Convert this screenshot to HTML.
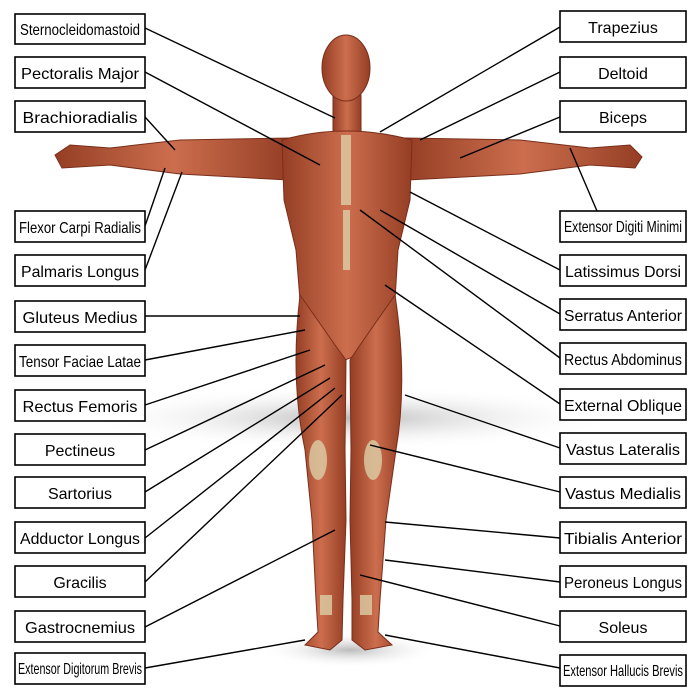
<!DOCTYPE html>
<html><head><meta charset="utf-8"><style>
html,body{margin:0;padding:0;background:#fff;width:700px;height:700px;overflow:hidden}
text{font-family:"Liberation Sans",sans-serif;font-size:16px;fill:#000}
</style></head><body>
<svg width="700" height="700" viewBox="0 0 700 700" xmlns="http://www.w3.org/2000/svg">
<defs>
<radialGradient id="sh" cx="50%" cy="50%" r="50%"><stop offset="0" stop-color="#bbb"/><stop offset="1" stop-color="#fff" stop-opacity="0"/></radialGradient>
<linearGradient id="mus" x1="0" x2="1"><stop offset="0" stop-color="#953e24"/><stop offset="0.5" stop-color="#cc6e4e"/><stop offset="1" stop-color="#953e24"/></linearGradient>
</defs>
<ellipse cx="350" cy="418" rx="270" ry="32" fill="url(#sh)"/>
<ellipse cx="350" cy="650" rx="90" ry="18" fill="url(#sh)"/>
<g fill="url(#mus)" stroke="#7a2e1a" stroke-width="1">
<path d="M290 138 L180 140 L110 148 L70 145 L55 155 L62 168 L110 165 L180 174 L288 180 Z"/>
<path d="M405 138 L520 140 L590 148 L630 145 L642 157 L635 168 L590 165 L520 174 L408 180 Z"/>
<rect x="333" y="95" width="28" height="40"/>
<ellipse cx="346" cy="68" rx="24" ry="33"/>
<path d="M282 140 Q345 122 412 140 L410 200 L398 250 L395 300 L385 345 L345 360 L308 345 L300 300 L296 250 L284 200 Z"/>
<path d="M300 295 Q290 380 305 450 L312 520 L316 600 L318 632 L305 645 L330 650 L342 640 L343 600 L346 520 L345 450 L346 360 L335 345 Z"/>
<path d="M395 295 Q408 380 396 450 L386 520 L380 600 L378 632 L392 645 L365 650 L352 640 L352 600 L350 520 L351 450 L350 360 L360 345 Z"/>
</g>
<g fill="#dccfa6" opacity="0.8">
<rect x="341" y="135" width="10" height="70"/>
<rect x="343" y="210" width="7" height="60"/>
<ellipse cx="318" cy="460" rx="9" ry="20"/>
<ellipse cx="373" cy="460" rx="9" ry="20"/>
<rect x="320" y="595" width="12" height="20"/>
<rect x="360" y="595" width="12" height="20"/>
</g>
<g stroke="#000" stroke-width="1.4">
<line x1="145" y1="28" x2="335" y2="118"/>
<line x1="145" y1="72" x2="320" y2="165"/>
<line x1="145" y1="117" x2="175" y2="150"/>
<line x1="145" y1="226" x2="165" y2="168"/>
<line x1="145" y1="270" x2="182" y2="172"/>
<line x1="145" y1="316" x2="300" y2="316"/>
<line x1="145" y1="360" x2="305" y2="330"/>
<line x1="145" y1="405" x2="310" y2="350"/>
<line x1="145" y1="450" x2="325" y2="365"/>
<line x1="145" y1="492" x2="330" y2="378"/>
<line x1="145" y1="538" x2="335" y2="388"/>
<line x1="145" y1="582" x2="342" y2="395"/>
<line x1="145" y1="627" x2="335" y2="530"/>
<line x1="145" y1="668" x2="305" y2="640"/>
<line x1="560" y1="27" x2="380" y2="132"/>
<line x1="560" y1="72" x2="420" y2="140"/>
<line x1="560" y1="117" x2="460" y2="158"/>
<line x1="597" y1="211" x2="570" y2="148"/>
<line x1="560" y1="270" x2="410" y2="192"/>
<line x1="560" y1="314" x2="380" y2="210"/>
<line x1="560" y1="358" x2="360" y2="210"/>
<line x1="560" y1="404" x2="385" y2="285"/>
<line x1="560" y1="448" x2="405" y2="395"/>
<line x1="560" y1="492" x2="370" y2="445"/>
<line x1="560" y1="538" x2="385" y2="522"/>
<line x1="560" y1="582" x2="385" y2="560"/>
<line x1="560" y1="626" x2="360" y2="575"/>
<line x1="560" y1="668" x2="385" y2="635"/>
</g>
<g fill="#fff" stroke="#000" stroke-width="1.6">
<rect x="15" y="14" width="130" height="30"/><rect x="15" y="57" width="130" height="31"/><rect x="15" y="101" width="130" height="31"/>
<rect x="15" y="211" width="130" height="31"/><rect x="15" y="255" width="130" height="31"/><rect x="15" y="301" width="130" height="31"/>
<rect x="15" y="345" width="130" height="31"/><rect x="15" y="390" width="130" height="31"/><rect x="15" y="434" width="130" height="31"/>
<rect x="15" y="477" width="130" height="31"/><rect x="15" y="522" width="130" height="31"/><rect x="15" y="566" width="130" height="31"/>
<rect x="15" y="611" width="130" height="31"/><rect x="15" y="653" width="130" height="31"/>
<rect x="560" y="11" width="126" height="31"/><rect x="560" y="57" width="126" height="31"/><rect x="560" y="101" width="126" height="31"/>
<rect x="560" y="211" width="126" height="31"/><rect x="560" y="255" width="126" height="31"/><rect x="560" y="299" width="126" height="31"/>
<rect x="560" y="343" width="126" height="31"/><rect x="560" y="389" width="126" height="31"/><rect x="560" y="433" width="126" height="31"/>
<rect x="560" y="477" width="126" height="31"/><rect x="560" y="522" width="126" height="31"/><rect x="560" y="566" width="126" height="31"/>
<rect x="560" y="611" width="126" height="31"/><rect x="560" y="655" width="126" height="31"/>
</g>
<g text-anchor="middle">
<text x="80" y="35" textLength="120" lengthAdjust="spacingAndGlyphs">Sternocleidomastoid</text>
<text x="80" y="79" textLength="118" lengthAdjust="spacingAndGlyphs">Pectoralis Major</text>
<text x="80" y="123" textLength="115" lengthAdjust="spacingAndGlyphs">Brachioradialis</text>
<text x="80" y="233" font-size="14" textLength="122" lengthAdjust="spacingAndGlyphs">Flexor Carpi Radialis</text>
<text x="80" y="277" textLength="118" lengthAdjust="spacingAndGlyphs">Palmaris Longus</text>
<text x="80" y="323" textLength="115" lengthAdjust="spacingAndGlyphs">Gluteus Medius</text>
<text x="80" y="367" font-size="14" textLength="122" lengthAdjust="spacingAndGlyphs">Tensor Faciae Latae</text>
<text x="80" y="412" textLength="115" lengthAdjust="spacingAndGlyphs">Rectus Femoris</text>
<text x="80" y="456">Pectineus</text>
<text x="80" y="499">Sartorius</text>
<text x="80" y="544" textLength="120" lengthAdjust="spacingAndGlyphs">Adductor Longus</text>
<text x="80" y="588">Gracilis</text>
<text x="80" y="633" textLength="110" lengthAdjust="spacingAndGlyphs">Gastrocnemius</text>
<text x="80" y="674" font-size="12" textLength="124" lengthAdjust="spacingAndGlyphs">Extensor Digitorum Brevis</text>
<text x="623" y="33">Trapezius</text>
<text x="623" y="79">Deltoid</text>
<text x="623" y="123">Biceps</text>
<text x="623" y="232" font-size="13" textLength="118" lengthAdjust="spacingAndGlyphs">Extensor Digiti Minimi</text>
<text x="623" y="277" textLength="116" lengthAdjust="spacingAndGlyphs">Latissimus Dorsi</text>
<text x="623" y="321" textLength="118" lengthAdjust="spacingAndGlyphs">Serratus Anterior</text>
<text x="623" y="365" textLength="118" lengthAdjust="spacingAndGlyphs">Rectus Abdominus</text>
<text x="623" y="411" textLength="118" lengthAdjust="spacingAndGlyphs">External Oblique</text>
<text x="623" y="455" textLength="114" lengthAdjust="spacingAndGlyphs">Vastus Lateralis</text>
<text x="623" y="499" textLength="116" lengthAdjust="spacingAndGlyphs">Vastus Medialis</text>
<text x="623" y="544" textLength="118" lengthAdjust="spacingAndGlyphs">Tibialis Anterior</text>
<text x="623" y="588" textLength="118" lengthAdjust="spacingAndGlyphs">Peroneus Longus</text>
<text x="623" y="633">Soleus</text>
<text x="623" y="676" font-size="12" textLength="120" lengthAdjust="spacingAndGlyphs">Extensor Hallucis Brevis</text>
</g>
</svg>
</body></html>
